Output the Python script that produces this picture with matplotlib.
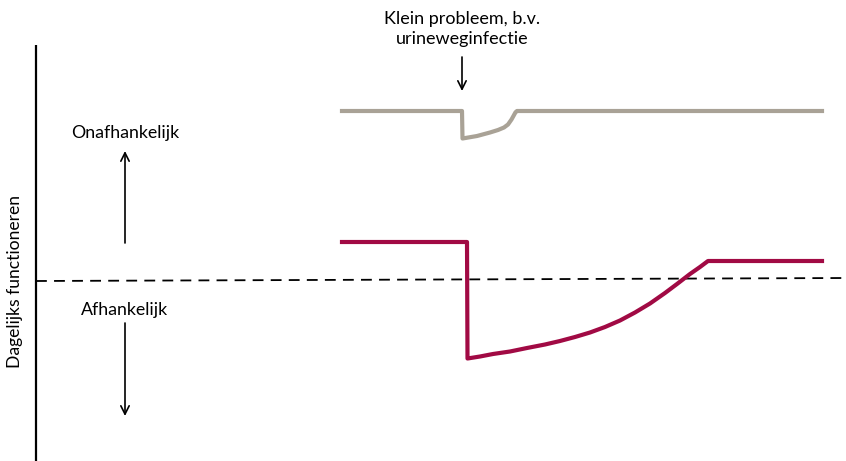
import numpy as np
import matplotlib.pyplot as plt

plt.rcParams['font.family'] = ['Lato', 'DejaVu Sans']

# tijd (x) en niveau van dagelijks functioneren (y, 0 = grens afhankelijk/onafhankelijk)
tijd_grijs = [342, 462, 462.5, 477, 490, 498, 504, 508, 511.5, 514, 515.5, 517, 822]
niveau_grijs = [170, 170, 142.5, 145, 148.5, 151, 153.5, 156.5, 161.5, 166, 168.7, 170, 170]

tijd_rood = [342, 467, 467.5, 480, 493, 510, 527, 545, 560, 575, 590, 605,
             620, 635, 650, 665, 677, 690, 700, 708, 822]
niveau_rood = [39, 39, -77.5, -75.5, -73, -70.5, -67, -63.5, -60, -56, -51.5, -46,
               -39.5, -31.5, -22.5, -12, -3, 7, 14, 20, 20]

grens_x = [36, 846]
grens_y = [0, 3]

kleur_grijs = '#a9a296'
kleur_rood = '#a10a44'

fig = plt.figure(figsize=(8.46, 4.61), dpi=100)
ax = fig.add_axes([0, 0, 1, 1])
ax.set_xlim(0, 846)
ax.set_ylim(-180, 281)
ax.axis('off')

# verticale as
ax.plot([36, 36], [-180, 236], color='black', lw=1.6, solid_capstyle='butt')

# grenslijn
ax.plot(grens_x, grens_y, color='black', lw=1.3, dashes=(6, 4))

ax.plot(tijd_grijs, niveau_grijs, color=kleur_grijs, lw=3, solid_joinstyle='round')
ax.plot(tijd_rood, niveau_rood, color=kleur_rood, lw=3, solid_joinstyle='round')

# pijlen
pijl = dict(arrowstyle='->', lw=1.2, color='black', mutation_scale=15,
            shrinkA=0, shrinkB=0)
ax.annotate('', xy=(125, 130), xytext=(125, 38), arrowprops=pijl)
ax.annotate('', xy=(125, -135), xytext=(125, -42), arrowprops=pijl)
ax.annotate('', xy=(462, 190), xytext=(462, 224), arrowprops=pijl)

ax.text(125, 148, 'Onafhankelijk', ha='center', va='center', fontsize=12.8)
ax.text(125, -29, 'Afhankelijk', ha='center', va='center', fontsize=12.8)
ax.text(462, 252, 'Klein probleem, b.v.\nurineweginfectie', ha='center',
        va='center', fontsize=13, linespacing=1.25)
ax.text(15, -1, 'Dagelijks functioneren', rotation=90, ha='center',
        va='center', fontsize=12.6)

fig.savefig('out.png', dpi=100)
